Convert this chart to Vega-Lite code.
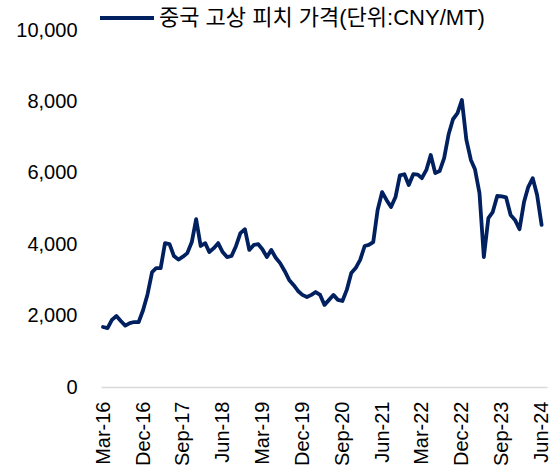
{
  "$schema": "https://vega.github.io/schema/vega-lite/v6.json",
  "autosize": "none",
  "width": 446,
  "height": 357,
  "padding": {"left": 101, "top": 30, "right": 2, "bottom": 82},
  "background": "white",
  "config": {
    "view": {"stroke": null},
    "font": "Liberation Sans, Noto Sans CJK KR"
  },
  "data": {
    "values": [
      {"date": "2016-03-01", "value": 1680, "series": "중국 고상 피치 가격(단위:CNY/MT)"},
      {"date": "2016-04-01", "value": 1650, "series": "중국 고상 피치 가격(단위:CNY/MT)"},
      {"date": "2016-05-01", "value": 1880, "series": "중국 고상 피치 가격(단위:CNY/MT)"},
      {"date": "2016-06-01", "value": 1990, "series": "중국 고상 피치 가격(단위:CNY/MT)"},
      {"date": "2016-07-01", "value": 1850, "series": "중국 고상 피치 가격(단위:CNY/MT)"},
      {"date": "2016-08-01", "value": 1720, "series": "중국 고상 피치 가격(단위:CNY/MT)"},
      {"date": "2016-09-01", "value": 1790, "series": "중국 고상 피치 가격(단위:CNY/MT)"},
      {"date": "2016-10-01", "value": 1820, "series": "중국 고상 피치 가격(단위:CNY/MT)"},
      {"date": "2016-11-01", "value": 1820, "series": "중국 고상 피치 가격(단위:CNY/MT)"},
      {"date": "2016-12-01", "value": 2150, "series": "중국 고상 피치 가격(단위:CNY/MT)"},
      {"date": "2017-01-01", "value": 2600, "series": "중국 고상 피치 가격(단위:CNY/MT)"},
      {"date": "2017-02-01", "value": 3220, "series": "중국 고상 피치 가격(단위:CNY/MT)"},
      {"date": "2017-03-01", "value": 3330, "series": "중국 고상 피치 가격(단위:CNY/MT)"},
      {"date": "2017-04-01", "value": 3330, "series": "중국 고상 피치 가격(단위:CNY/MT)"},
      {"date": "2017-05-01", "value": 4030, "series": "중국 고상 피치 가격(단위:CNY/MT)"},
      {"date": "2017-06-01", "value": 4000, "series": "중국 고상 피치 가격(단위:CNY/MT)"},
      {"date": "2017-07-01", "value": 3670, "series": "중국 고상 피치 가격(단위:CNY/MT)"},
      {"date": "2017-08-01", "value": 3570, "series": "중국 고상 피치 가격(단위:CNY/MT)"},
      {"date": "2017-09-01", "value": 3650, "series": "중국 고상 피치 가격(단위:CNY/MT)"},
      {"date": "2017-10-01", "value": 3750, "series": "중국 고상 피치 가격(단위:CNY/MT)"},
      {"date": "2017-11-01", "value": 4060, "series": "중국 고상 피치 가격(단위:CNY/MT)"},
      {"date": "2017-12-01", "value": 4700, "series": "중국 고상 피치 가격(단위:CNY/MT)"},
      {"date": "2018-01-01", "value": 3950, "series": "중국 고상 피치 가격(단위:CNY/MT)"},
      {"date": "2018-02-01", "value": 4030, "series": "중국 고상 피치 가격(단위:CNY/MT)"},
      {"date": "2018-03-01", "value": 3780, "series": "중국 고상 피치 가격(단위:CNY/MT)"},
      {"date": "2018-04-01", "value": 3890, "series": "중국 고상 피치 가격(단위:CNY/MT)"},
      {"date": "2018-05-01", "value": 4030, "series": "중국 고상 피치 가격(단위:CNY/MT)"},
      {"date": "2018-06-01", "value": 3780, "series": "중국 고상 피치 가격(단위:CNY/MT)"},
      {"date": "2018-07-01", "value": 3640, "series": "중국 고상 피치 가격(단위:CNY/MT)"},
      {"date": "2018-08-01", "value": 3670, "series": "중국 고상 피치 가격(단위:CNY/MT)"},
      {"date": "2018-09-01", "value": 3950, "series": "중국 고상 피치 가격(단위:CNY/MT)"},
      {"date": "2018-10-01", "value": 4310, "series": "중국 고상 피치 가격(단위:CNY/MT)"},
      {"date": "2018-11-01", "value": 4420, "series": "중국 고상 피치 가격(단위:CNY/MT)"},
      {"date": "2018-12-01", "value": 3840, "series": "중국 고상 피치 가격(단위:CNY/MT)"},
      {"date": "2019-01-01", "value": 3980, "series": "중국 고상 피치 가격(단위:CNY/MT)"},
      {"date": "2019-02-01", "value": 4000, "series": "중국 고상 피치 가격(단위:CNY/MT)"},
      {"date": "2019-03-01", "value": 3860, "series": "중국 고상 피치 가격(단위:CNY/MT)"},
      {"date": "2019-04-01", "value": 3640, "series": "중국 고상 피치 가격(단위:CNY/MT)"},
      {"date": "2019-05-01", "value": 3840, "series": "중국 고상 피치 가격(단위:CNY/MT)"},
      {"date": "2019-06-01", "value": 3620, "series": "중국 고상 피치 가격(단위:CNY/MT)"},
      {"date": "2019-07-01", "value": 3470, "series": "중국 고상 피치 가격(단위:CNY/MT)"},
      {"date": "2019-08-01", "value": 3250, "series": "중국 고상 피치 가격(단위:CNY/MT)"},
      {"date": "2019-09-01", "value": 3000, "series": "중국 고상 피치 가격(단위:CNY/MT)"},
      {"date": "2019-10-01", "value": 2860, "series": "중국 고상 피치 가격(단위:CNY/MT)"},
      {"date": "2019-11-01", "value": 2690, "series": "중국 고상 피치 가격(단위:CNY/MT)"},
      {"date": "2019-12-01", "value": 2580, "series": "중국 고상 피치 가격(단위:CNY/MT)"},
      {"date": "2020-01-01", "value": 2520, "series": "중국 고상 피치 가격(단위:CNY/MT)"},
      {"date": "2020-02-01", "value": 2580, "series": "중국 고상 피치 가격(단위:CNY/MT)"},
      {"date": "2020-03-01", "value": 2660, "series": "중국 고상 피치 가격(단위:CNY/MT)"},
      {"date": "2020-04-01", "value": 2580, "series": "중국 고상 피치 가격(단위:CNY/MT)"},
      {"date": "2020-05-01", "value": 2300, "series": "중국 고상 피치 가격(단위:CNY/MT)"},
      {"date": "2020-06-01", "value": 2440, "series": "중국 고상 피치 가격(단위:CNY/MT)"},
      {"date": "2020-07-01", "value": 2580, "series": "중국 고상 피치 가격(단위:CNY/MT)"},
      {"date": "2020-08-01", "value": 2440, "series": "중국 고상 피치 가격(단위:CNY/MT)"},
      {"date": "2020-09-01", "value": 2410, "series": "중국 고상 피치 가격(단위:CNY/MT)"},
      {"date": "2020-10-01", "value": 2720, "series": "중국 고상 피치 가격(단위:CNY/MT)"},
      {"date": "2020-11-01", "value": 3190, "series": "중국 고상 피치 가격(단위:CNY/MT)"},
      {"date": "2020-12-01", "value": 3330, "series": "중국 고상 피치 가격(단위:CNY/MT)"},
      {"date": "2021-01-01", "value": 3560, "series": "중국 고상 피치 가격(단위:CNY/MT)"},
      {"date": "2021-02-01", "value": 3950, "series": "중국 고상 피치 가격(단위:CNY/MT)"},
      {"date": "2021-03-01", "value": 3980, "series": "중국 고상 피치 가격(단위:CNY/MT)"},
      {"date": "2021-04-01", "value": 4060, "series": "중국 고상 피치 가격(단위:CNY/MT)"},
      {"date": "2021-05-01", "value": 4960, "series": "중국 고상 피치 가격(단위:CNY/MT)"},
      {"date": "2021-06-01", "value": 5460, "series": "중국 고상 피치 가격(단위:CNY/MT)"},
      {"date": "2021-07-01", "value": 5240, "series": "중국 고상 피치 가격(단위:CNY/MT)"},
      {"date": "2021-08-01", "value": 5040, "series": "중국 고상 피치 가격(단위:CNY/MT)"},
      {"date": "2021-09-01", "value": 5320, "series": "중국 고상 피치 가격(단위:CNY/MT)"},
      {"date": "2021-10-01", "value": 5930, "series": "중국 고상 피치 가격(단위:CNY/MT)"},
      {"date": "2021-11-01", "value": 5960, "series": "중국 고상 피치 가격(단위:CNY/MT)"},
      {"date": "2021-12-01", "value": 5660, "series": "중국 고상 피치 가격(단위:CNY/MT)"},
      {"date": "2022-01-01", "value": 5960, "series": "중국 고상 피치 가격(단위:CNY/MT)"},
      {"date": "2022-02-01", "value": 5950, "series": "중국 고상 피치 가격(단위:CNY/MT)"},
      {"date": "2022-03-01", "value": 5850, "series": "중국 고상 피치 가격(단위:CNY/MT)"},
      {"date": "2022-04-01", "value": 6080, "series": "중국 고상 피치 가격(단위:CNY/MT)"},
      {"date": "2022-05-01", "value": 6500, "series": "중국 고상 피치 가격(단위:CNY/MT)"},
      {"date": "2022-06-01", "value": 5990, "series": "중국 고상 피치 가격(단위:CNY/MT)"},
      {"date": "2022-07-01", "value": 6050, "series": "중국 고상 피치 가격(단위:CNY/MT)"},
      {"date": "2022-08-01", "value": 6410, "series": "중국 고상 피치 가격(단위:CNY/MT)"},
      {"date": "2022-09-01", "value": 7080, "series": "중국 고상 피치 가격(단위:CNY/MT)"},
      {"date": "2022-10-01", "value": 7500, "series": "중국 고상 피치 가격(단위:CNY/MT)"},
      {"date": "2022-11-01", "value": 7670, "series": "중국 고상 피치 가격(단위:CNY/MT)"},
      {"date": "2022-12-01", "value": 8040, "series": "중국 고상 피치 가격(단위:CNY/MT)"},
      {"date": "2023-01-01", "value": 6920, "series": "중국 고상 피치 가격(단위:CNY/MT)"},
      {"date": "2023-02-01", "value": 6360, "series": "중국 고상 피치 가격(단위:CNY/MT)"},
      {"date": "2023-03-01", "value": 6100, "series": "중국 고상 피치 가격(단위:CNY/MT)"},
      {"date": "2023-04-01", "value": 5430, "series": "중국 고상 피치 가격(단위:CNY/MT)"},
      {"date": "2023-05-01", "value": 3640, "series": "중국 고상 피치 가격(단위:CNY/MT)"},
      {"date": "2023-06-01", "value": 4730, "series": "중국 고상 피치 가격(단위:CNY/MT)"},
      {"date": "2023-07-01", "value": 4900, "series": "중국 고상 피치 가격(단위:CNY/MT)"},
      {"date": "2023-08-01", "value": 5350, "series": "중국 고상 피치 가격(단위:CNY/MT)"},
      {"date": "2023-09-01", "value": 5340, "series": "중국 고상 피치 가격(단위:CNY/MT)"},
      {"date": "2023-10-01", "value": 5310, "series": "중국 고상 피치 가격(단위:CNY/MT)"},
      {"date": "2023-11-01", "value": 4820, "series": "중국 고상 피치 가격(단위:CNY/MT)"},
      {"date": "2023-12-01", "value": 4680, "series": "중국 고상 피치 가격(단위:CNY/MT)"},
      {"date": "2024-01-01", "value": 4420, "series": "중국 고상 피치 가격(단위:CNY/MT)"},
      {"date": "2024-02-01", "value": 5180, "series": "중국 고상 피치 가격(단위:CNY/MT)"},
      {"date": "2024-03-01", "value": 5600, "series": "중국 고상 피치 가격(단위:CNY/MT)"},
      {"date": "2024-04-01", "value": 5850, "series": "중국 고상 피치 가격(단위:CNY/MT)"},
      {"date": "2024-05-01", "value": 5380, "series": "중국 고상 피치 가격(단위:CNY/MT)"},
      {"date": "2024-06-01", "value": 4540, "series": "중국 고상 피치 가격(단위:CNY/MT)"}
    ]
  },
  "mark": {"type": "line", "strokeWidth": 3.8, "interpolate": "linear", "strokeJoin": "round", "strokeCap": "round"},
  "encoding": {
    "x": {
      "field": "date",
      "type": "temporal",
      "scale": {"type": "utc", "domain": ["2016-02-16", "2024-07-08"]},
      "axis": {
        "title": null,
        "values": ["2016-03-01", "2016-12-01", "2017-09-01", "2018-06-01", "2019-03-01", "2019-12-01", "2020-09-01", "2021-06-01", "2022-03-01", "2022-12-01", "2023-09-01", "2024-06-01"],
        "labelExpr": "utcFormat(datum.value, '%b-%y')",
        "labelAngle": 270,
        "labelAlign": "right",
        "labelBaseline": "middle",
        "labelFontSize": 20,
        "labelColor": "#000000",
        "labelPadding": 14,
        "labelFont": "Liberation Sans",
        "ticks": false,
        "grid": false,
        "domainColor": "#d9d9d9",
        "domainWidth": 1.5,
        "labelOverlap": false,
        "labelFlush": false
      }
    },
    "y": {
      "field": "value",
      "type": "quantitative",
      "scale": {"domain": [0, 10000], "nice": false, "zero": true},
      "axis": {
        "title": null,
        "values": [0, 2000, 4000, 6000, 8000, 10000],
        "format": ",.0f",
        "labelFontSize": 20,
        "labelColor": "#000000",
        "labelPadding": 24,
        "labelFont": "Liberation Sans",
        "domain": false,
        "ticks": false,
        "grid": false,
        "labelOverlap": false,
        "labelFlush": false
      }
    },
    "color": {
      "field": "series",
      "type": "nominal",
      "scale": {"range": ["#002060"]},
      "legend": {
        "title": null,
        "orient": "none",
        "legendX": -3,
        "legendY": -41,
        "padding": 0,
        "symbolType": "stroke",
        "symbolSize": 2916,
        "symbolStrokeWidth": 4,
        "labelFontSize": 22,
        "labelColor": "#000000",
        "labelFont": "Liberation Sans, Noto Sans CJK KR",
        "labelOffset": 3,
        "labelLimit": 500
      }
    }
  }
}
